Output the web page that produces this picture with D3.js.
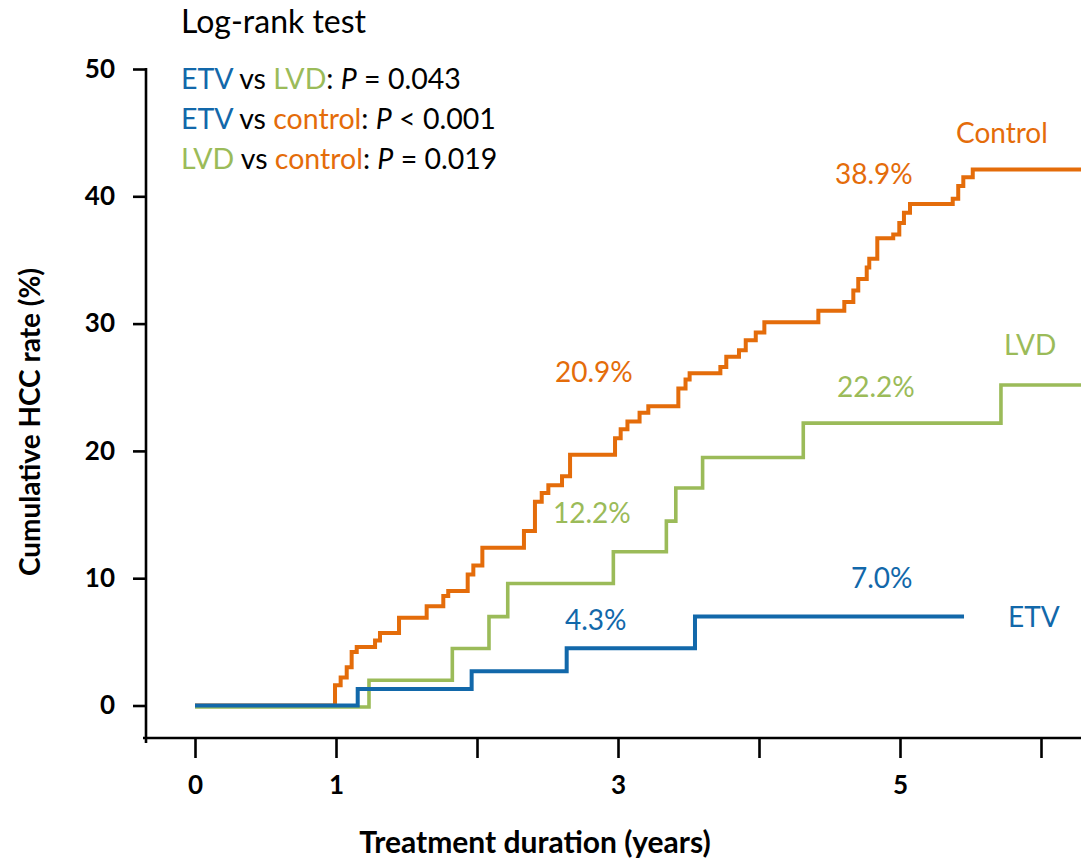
<!DOCTYPE html>
<html>
<head>
<meta charset="utf-8">
<script src="https://cdn.jsdelivr.net/npm/d3@7"></script>
<style>
body { margin: 0; background: #fff; }
svg { display: block; font-family: Lato, "Open Sans", sans-serif; }
</style>
</head>
<body>
<div class="chart-container"></div>
<script>

// ------------------------------ Data ------------------------------

// cumulative HCC rate (%) by treatment duration (years), one step per event
var controlTimes = [0, 0.993, 1.033, 1.076, 1.111, 1.147, 1.277, 1.312, 1.447, 1.643, 1.761, 1.796, 1.934, 1.974,
	2.038, 2.333, 2.411, 2.459, 2.506, 2.603, 2.660, 2.979, 3.019, 3.067, 3.153, 3.215, 3.428, 3.479, 3.508,
	3.726, 3.768, 3.858, 3.906, 3.977, 4.038, 4.421, 4.605, 4.669, 4.704, 4.764, 4.782, 4.839, 4.952, 4.995,
	5.028, 5.071, 5.374, 5.413, 5.449, 5.516, 6.3];
var controlRates = [0, 1.6, 2.2, 3.0, 4.2, 4.6, 5.1, 5.7, 6.9, 7.8, 8.6, 9.0, 10.3, 11.0,
	12.4, 13.7, 16.0, 16.7, 17.3, 18.0, 19.7, 21.0, 21.7, 22.3, 23.0, 23.5, 24.9, 25.6, 26.1,
	26.6, 27.4, 27.9, 28.7, 29.3, 30.1, 31.0, 31.7, 32.6, 33.5, 34.4, 35.1, 36.7, 37.0, 37.9,
	38.7, 39.4, 39.8, 40.8, 41.5, 42.1, 42.1];

var lvdTimes = [0, 1.234, 1.825, 2.085, 2.218, 2.967, 3.343, 3.41, 3.60, 4.314, 5.716, 6.3];
var lvdRates = [0, 2.1, 4.6, 7.1, 9.7, 12.2, 14.6, 17.2, 19.6, 22.3, 25.3, 25.3];

var etvTimes = [0, 1.154, 1.962, 2.636, 3.546, 5.454];
var etvRates = [0, 1.3, 2.7, 4.5, 7.0, 7.0];

var yTicks = [0, 10, 20, 30, 40, 50];
var xTicks = [0, 1, 2, 3, 4, 5, 6];
var xTickLabels = ["0", "1", "", "3", "", "5", ""];

var groupNames = ["Control", "LVD", "ETV"];
var groupColors = ["#e46c0a", "#9bbb59", "#1268aa"];

// rates printed on the curves
var rateLabels = ["38.9%", "20.9%", "22.2%", "12.2%", "7.0%", "4.3%"];
var rateLabelGroups = ["Control", "Control", "LVD", "LVD", "ETV", "ETV"];

// log-rank test lines: [group, group], relation, p
var testPairs = [["ETV", "LVD"], ["ETV", "control"], ["LVD", "control"]];
var testRelations = ["=", "<", "="];
var testPValues = ["0.043", "0.001", "0.019"];

// ------------------------------ Layout ------------------------------

var width = 1081;
var height = 860;
var yAxisX = 146;
var xAxisY = 738;

var colorOf = name => groupColors[groupNames.findIndex(g => g.toLowerCase() == name.toLowerCase())];

// label anchors in data units (years, %)
var groupLabelSpots = [[5.397, 44.2], [5.738, 27.5], [5.766, 6.2]];
var rateLabelSpots = [[4.539, 41.0], [2.553, 25.4], [4.553, 24.2], [2.539, 14.3], [4.652, 9.2], [2.624, 5.9]];

var x = d3.scaleLinear().domain([0, 6]).range([195, 1041]);
var y = d3.scaleLinear().domain([0, 50]).range([705.5, 69]);

var svg = d3.select('div.chart-container')
	.append('svg')
	.attr('width', width)
	.attr('height', height);

// ---------- axes

var yAxisG = svg.append('g')
	.attr('transform', `translate(${yAxisX}, 0)`)
	.call(d3.axisLeft(y).tickValues(yTicks).tickSize(13).tickPadding(18).tickSizeOuter(0));

yAxisG.select('.domain').remove();
yAxisG.append('line')
	.attr('x1', 0).attr('x2', 0)
	.attr('y1', y(50) - 1).attr('y2', xAxisY + 5)
	.attr('stroke', '#000');

yAxisG.attr('font-family', null).attr('font-size', 26).attr('font-weight', 'bold');

var xAxisG = svg.append('g')
	.attr('transform', `translate(0, ${xAxisY})`)
	.call(d3.axisBottom(x).tickValues(xTicks).tickSize(20).tickPadding(18).tickSizeOuter(0)
		.tickFormat((d, i) => xTickLabels[i]));

xAxisG.select('.domain').remove();
xAxisG.append('line')
	.attr('x1', yAxisX - 3).attr('x2', width)
	.attr('y1', 0).attr('y2', 0)
	.attr('stroke', '#000');

xAxisG.attr('font-family', null).attr('font-size', 26).attr('font-weight', 'bold');

svg.selectAll('.tick line, g > line').attr('stroke', '#000').attr('stroke-width', 2.6);
svg.selectAll('.tick text').attr('fill', '#000');

// axis titles
svg.append('text')
	.attr('x', 535).attr('y', 853)
	.attr('text-anchor', 'middle')
	.attr('font-size', 30).attr('font-weight', 'bold')
	.text('Treatment duration (years)');

svg.append('text')
	.attr('transform', 'translate(40, 422) rotate(-90)')
	.attr('text-anchor', 'middle')
	.attr('font-size', 28).attr('font-weight', 'bold')
	.text('Cumulative HCC rate (%)');

// ---------- curves

var stepLine = d3.line()
	.curve(d3.curveStepAfter)
	.x(d => x(d[0]))
	.y(d => y(d[1]));

var curves = [
	d3.zip(controlTimes, controlRates),
	d3.zip(lvdTimes, lvdRates),
	d3.zip(etvTimes, etvRates)
];

svg.append('g').attr('class', 'curves')
	.selectAll('path')
	.data(curves)
	.enter()
	.append('path')
	.attr('d', stepLine)
	.attr('fill', 'none')
	.attr('stroke', (d, i) => groupColors[i])
	.attr('stroke-width', (d, i) => i == 1 ? 3.6 : 4)
	// LVD sits a hair below ETV along the baseline, as in the figure
	.attr('transform', (d, i) => i == 1 ? 'translate(0, 1.5)' : null);

// ---------- labels on the curves

svg.append('g')
	.selectAll('text')
	.data(groupNames)
	.enter()
	.append('text')
	.attr('x', (d, i) => x(groupLabelSpots[i][0]))
	.attr('y', (d, i) => y(groupLabelSpots[i][1]))
	.attr('font-size', 28)
	.attr('fill', (d, i) => groupColors[i])
	.text(d => d);

svg.append('g')
	.selectAll('text')
	.data(rateLabels)
	.enter()
	.append('text')
	.attr('x', (d, i) => x(rateLabelSpots[i][0]))
	.attr('y', (d, i) => y(rateLabelSpots[i][1]))
	.attr('font-size', 28)
	.attr('fill', (d, i) => colorOf(rateLabelGroups[i]))
	.text(d => d);

// ---------- log-rank test box

svg.append('text')
	.attr('x', 181).attr('y', 33)
	.attr('font-size', 32)
	.attr('fill', '#000')
	.text('Log-rank test');

var testText = svg.append('g')
	.selectAll('text')
	.data(testPairs)
	.enter()
	.append('text')
	.attr('x', 181)
	.attr('y', (d, i) => 89 + i * 40)
	.attr('font-size', 28.5)
	.attr('fill', '#000');

testText.append('tspan').attr('fill', d => colorOf(d[0])).text(d => d[0]);
testText.append('tspan').text(' vs ');
testText.append('tspan').attr('fill', d => colorOf(d[1])).text(d => d[1]);
testText.append('tspan').text(': ');
testText.append('tspan').attr('font-style', 'italic').text('P');
testText.append('tspan').text((d, i) => ` ${testRelations[i]} ${testPValues[i]}`);

</script>
</body>
</html>
